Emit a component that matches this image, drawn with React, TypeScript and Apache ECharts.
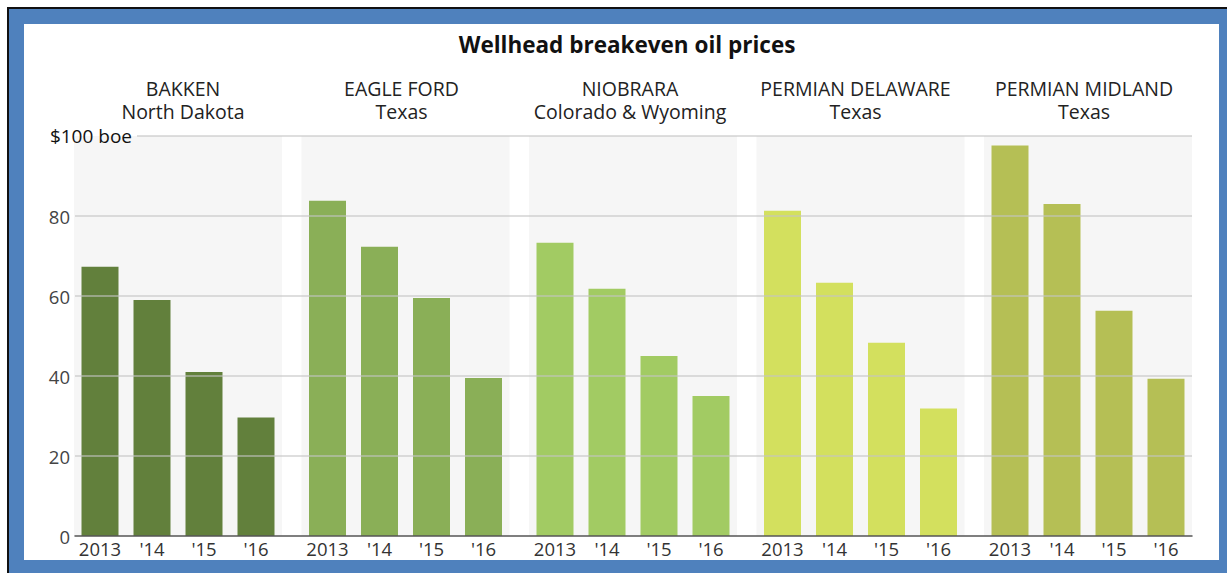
import React, { useEffect, useRef } from 'react';
import * as echarts from 'echarts';

// ---- data ----
const years = ['2013', "'14", "'15", "'16"];
const regions = ['BAKKEN', 'EAGLE FORD', 'NIOBRARA', 'PERMIAN DELAWARE', 'PERMIAN MIDLAND'];
const states = ['North Dakota', 'Texas', 'Colorado & Wyoming', 'Texas', 'Texas'];
const bakken = [67.3, 59, 41, 29.6];
const eagleFord = [83.8, 72.3, 59.5, 39.5];
const niobrara = [73.3, 61.8, 45, 35];
const permianDelaware = [81.3, 63.3, 48.3, 31.9];
const permianMidland = [97.6, 83, 56.3, 39.3];
const yMin = 0;
const yMax = 100;
const yStep = 20;
const titleText = 'Wellhead breakeven oil prices';
const unitLabel = '$100 boe';

// ---- styling / layout ----
const seriesData = [bakken, eagleFord, niobrara, permianDelaware, permianMidland];
const barColors = ['#62803c', '#8aaf57', '#a2cb63', '#d3e05e', '#b5bf55'];
const FONT = '"Open Sans", "Noto Sans", sans-serif';
const PANEL_LEFT = 74;
const PANEL_W = 208;
const PANEL_PITCH = 227.5;
const PLOT_TOP = 136;
const PLOT_H = 400;
const PLOT_RIGHT = 1192;
const headerShift = [5, -4, -3, -5, -4];
const HEADER_Y1 = 88.5;
const HEADER_Y2 = 111.5;
const GRID_COLOR = 'rgba(196,196,196,0.75)';

export default function App() {
  const ref = useRef<HTMLDivElement>(null);

  useEffect(() => {
    if (!ref.current) return;
    const chart = echarts.init(ref.current, undefined, { renderer: 'svg' });

    const grids: any[] = [];
    const xAxes: any[] = [];
    const yAxes: any[] = [];
    const series: any[] = [];
    const graphics: any[] = [];

    seriesData.forEach((vals, i) => {
      const left = PANEL_LEFT + i * PANEL_PITCH;
      grids.push({
        left,
        top: PLOT_TOP,
        width: PANEL_W,
        height: PLOT_H,
        show: true,
        backgroundColor: '#f6f6f6',
        borderWidth: 0,
      });
      xAxes.push({
        type: 'category',
        gridIndex: i,
        data: years,
        axisLine: { show: false },
        axisTick: { show: false },
        axisLabel: { color: '#333', fontSize: 18.5, fontFamily: FONT, margin: 3, interval: 0 },
      });
      yAxes.push({
        type: 'value',
        gridIndex: i,
        min: yMin,
        max: yMax,
        interval: yStep,
        show: false,
        splitLine: { show: false },
      });
      series.push({
        type: 'bar',
        xAxisIndex: i,
        yAxisIndex: i,
        data: vals,
        barWidth: 37,
        itemStyle: { color: barColors[i] },
        z: 2,
      });
      const cx = left + PANEL_W / 2 + headerShift[i];
      graphics.push({
        type: 'text',
        x: cx,
        y: HEADER_Y1,
        style: {
          text: regions[i],
          fill: '#222',
          font: `19.5px ${FONT}`,
          align: 'center',
          verticalAlign: 'middle',
        },
      });
      graphics.push({
        type: 'text',
        x: cx,
        y: HEADER_Y2,
        style: {
          text: states[i],
          fill: '#222',
          font: `19.5px ${FONT}`,
          align: 'center',
          verticalAlign: 'middle',
        },
      });
    });

    // overlay grid with gridlines & y labels
    const nLines = (yMax - yMin) / yStep + 1;
    const overlayColors = Array.from({ length: nLines }, (_, k) =>
      k === 0 || k === nLines - 1 ? 'rgba(0,0,0,0)' : GRID_COLOR
    );
    const topOnlyColors = Array.from({ length: nLines }, (_, k) =>
      k === nLines - 1 ? GRID_COLOR : 'rgba(0,0,0,0)'
    );

    const gA = grids.length;
    grids.push({ left: 75, top: PLOT_TOP, width: PLOT_RIGHT - 75, height: PLOT_H, show: false });
    xAxes.push({
      type: 'value',
      gridIndex: gA,
      min: 0,
      max: 1,
      axisLabel: { show: false },
      axisTick: { show: false },
      splitLine: { show: false },
      axisLine: { show: true, onZero: false, lineStyle: { color: '#555', width: 1.5 } },
      z: 4,
    });
    yAxes.push({
      type: 'value',
      gridIndex: gA,
      min: yMin,
      max: yMax,
      interval: yStep,
      axisLine: { show: false },
      axisTick: { show: false },
      axisLabel: {
        color: '#444',
        fontSize: 18.5,
        fontFamily: FONT,
        margin: 5,
        formatter: (v: number) => (v === yMax ? '' : String(v)),
      },
      splitLine: { show: true, lineStyle: { color: overlayColors, width: 1.5 } },
      z: 3,
    });

    const gB = grids.length;
    grids.push({ left: 137, top: PLOT_TOP, width: PLOT_RIGHT - 137, height: PLOT_H, show: false });
    xAxes.push({
      type: 'value',
      gridIndex: gB,
      min: 0,
      max: 1,
      show: false,
    });
    yAxes.push({
      type: 'value',
      gridIndex: gB,
      min: yMin,
      max: yMax,
      interval: yStep,
      axisLine: { show: false },
      axisTick: { show: false },
      axisLabel: {
        color: '#111',
        fontSize: 19,
        fontFamily: FONT,
        margin: 5,
        formatter: (v: number) => (v === yMax ? unitLabel : ''),
      },
      splitLine: { show: true, lineStyle: { color: topOnlyColors, width: 1.5 } },
      z: 3,
    });

    graphics.push({
      type: 'text',
      x: 627,
      y: 44,
      style: {
        text: titleText,
        fill: '#111',
        font: `bold 22.5px ${FONT}`,
        align: 'center',
        verticalAlign: 'middle',
      },
    });

    chart.setOption({
      animation: false,
      grid: grids,
      xAxis: xAxes,
      yAxis: yAxes,
      series,
      graphic: graphics,
    });

    return () => chart.dispose();
  }, []);

  return (
    <div style={{ position: 'fixed', left: 0, top: 0, width: 1227, height: 573, background: '#fff', overflow: 'hidden' }}>
      <div style={{ position: 'absolute', left: 7, top: 7, width: 1220, height: 566, background: '#111' }} />
      <div style={{ position: 'absolute', left: 9, top: 9, width: 1218, height: 564, background: '#4f81bd' }} />
      <div style={{ position: 'absolute', left: 24, top: 24, width: 1195, height: 536, background: '#fff' }} />
      <div ref={ref} style={{ position: 'absolute', left: 0, top: 0, width: 1227, height: 573 }} />
    </div>
  );
}
